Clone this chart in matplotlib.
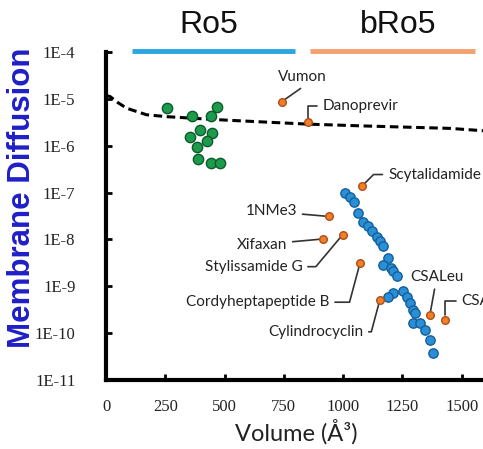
import numpy as np
import matplotlib.pyplot as plt

# Ro5 compounds (green)
ro5_vol = [256, 364, 469, 441, 396, 354, 446, 425, 382, 389, 441, 481]
ro5_log = [-5.20, -5.36, -5.18, -5.36, -5.66, -5.81, -5.73, -5.89, -6.02, -6.29, -6.37, -6.37]

# bRo5 series (blue)
bro5_vol = [1008, 1029, 1046, 1064, 1085, 1106, 1120, 1141, 1155, 1169, 1190, 1169, 1204, 1210,
            1226, 1211, 1190, 1253, 1268, 1282, 1296, 1303, 1294, 1324, 1345, 1366, 1380]
bro5_log = [-7.01, -7.09, -7.21, -7.44, -7.62, -7.72, -7.83, -7.94, -8.04, -8.15, -8.40, -8.54,
            -8.61, -8.68, -8.79, -9.14, -9.22, -9.11, -9.22, -9.36, -9.50, -9.57, -9.78, -9.78,
            -9.93, -10.14, -10.42]

# named compounds (orange)
names = ["Vumon", "Danoprevir", "Scytalidamide", "1NMe3", "Xifaxan", "Stylissamide G",
         "Cordyheptapeptide B", "Cylindrocyclin", "CSALeu", "CSA"]
named_vol = [741, 853, 1078, 940, 916, 998, 1071, 1155, 1366, 1429]
named_log = [-5.06, -5.49, -6.87, -7.51, -7.99, -7.90, -8.51, -9.29, -9.61, -9.71]

# dashed limit curve
curve_vol = [0, 17, 50, 87, 171, 256, 452, 649, 853, 1099, 1450, 1590]
curve_log = [-4.93, -4.95, -5.08, -5.20, -5.34, -5.38, -5.44, -5.49, -5.54, -5.58, -5.63, -5.68]

yticks = [1e-4, 1e-5, 1e-6, 1e-7, 1e-8, 1e-9, 1e-10, 1e-11]
ylabels = ["1E-4", "1E-5", "1E-6", "1E-7", "1E-8", "1E-9", "1E-10", "1E-11"]
xticks = [0, 250, 500, 750, 1000, 1250, 1500]

fig = plt.figure(figsize=(4.83, 4.49), dpi=100)
ax = fig.add_axes([0.2195, 0.1537, 0.7805, 0.7305])

ax.plot(curve_vol, 10 ** np.array(curve_log), ls=(0, (2.8, 1.5)), color="black", lw=2.2, zorder=1)

ax.scatter(ro5_vol, 10 ** np.array(ro5_log), s=55, color="#1d9a4c", edgecolor="#0c5a2b", lw=1, zorder=3)
ax.scatter(bro5_vol, 10 ** np.array(bro5_log), s=45, color="#2a8fd4", edgecolor="#135f9c", lw=1, zorder=3)
ax.scatter(named_vol, 10 ** np.array(named_log), s=30, color="#f07f2a", edgecolor="#b04d15", lw=1, zorder=4)

# label offsets (points), alignment, connector style
lab = {
    "Vumon": ((15, 18), "center", "angle,angleA=-90,angleB=35,rad=0"),
    "Danoprevir": ((10, 11.5), "left", "angle,angleA=0,angleB=90,rad=0"),
    "Scytalidamide": ((19, 8.6), "left", "angle,angleA=0,angleB=45,rad=0"),
    "1NMe3": ((-23, 3.6), "right", "arc3"),
    "Xifaxan": ((-26, -4), "right", "arc3"),
    "Stylissamide G": ((-29, -23), "right", "angle,angleA=0,angleB=50,rad=0"),
    "Cordyheptapeptide B": ((-22, -28), "right", "angle,angleA=0,angleB=75,rad=0"),
    "Cylindrocyclin": ((-12, -23), "right", "angle,angleA=0,angleB=75,rad=0"),
    "CSALeu": ((5, 27.5), "center", "arc3"),
    "CSA": ((12, 13), "left", "angle,angleA=0,angleB=90,rad=0"),
}
for n, v, lg in zip(names, named_vol, named_log):
    off, ha, cs = lab[n]
    ax.annotate(n, (v, 10 ** lg), xytext=off, textcoords="offset points", ha=ha, va="center",
                fontsize=11, family="Lato", color="#222222", annotation_clip=False,
                arrowprops=dict(arrowstyle="-", color="#333333", lw=1.2, connectionstyle=cs,
                                shrinkA=2, shrinkB=3))

ax.set_yscale("log")
ax.set_ylim(1e-11, 1e-4)
ax.set_xlim(0, 1590)
ax.set_yticks(yticks)
ax.set_yticklabels(ylabels)
ax.minorticks_off()
ax.set_xticks(xticks)
ax.set_xticklabels([str(t) for t in xticks])
ax.tick_params(direction="in", length=4, width=2, labelsize=12)
ax.tick_params(axis="y", pad=22)
ax.tick_params(axis="x", pad=14)
for t in ax.get_xticklabels() + ax.get_yticklabels():
    t.set_family("Liberation Serif")
    t.set_color("#222222")
for s in ["top", "right"]:
    ax.spines[s].set_visible(False)
ax.spines["left"].set_linewidth(3)
ax.spines["bottom"].set_linewidth(3)

ax.set_xlabel("Volume (Å³)", fontsize=17, family="Lato", color="#222222")
ax.xaxis.set_label_coords(0.504, -0.12)
fig.text(0.045, 0.56, "Membrane Diffusion", rotation=90, ha="center", va="center",
         fontsize=22.5, fontweight="bold", family="Liberation Sans", color="#1f1fc8")

# Ro5 / bRo5 region bars
ax.plot([110, 797], [1.05e-4, 1.05e-4], color="#2aa6e0", lw=3.5, clip_on=False, solid_capstyle="butt")
ax.plot([860, 1556], [1.05e-4, 1.05e-4], color="#f5a070", lw=3.5, clip_on=False, solid_capstyle="butt")
ax.text(434, 10 ** -3.42, "Ro5", ha="center", va="center", fontsize=23, family="Liberation Sans", color="#111111")
ax.text(1231, 10 ** -3.42, "bRo5", ha="center", va="center", fontsize=23, family="Liberation Sans", color="#111111")

fig.savefig("out.png", dpi=100)
